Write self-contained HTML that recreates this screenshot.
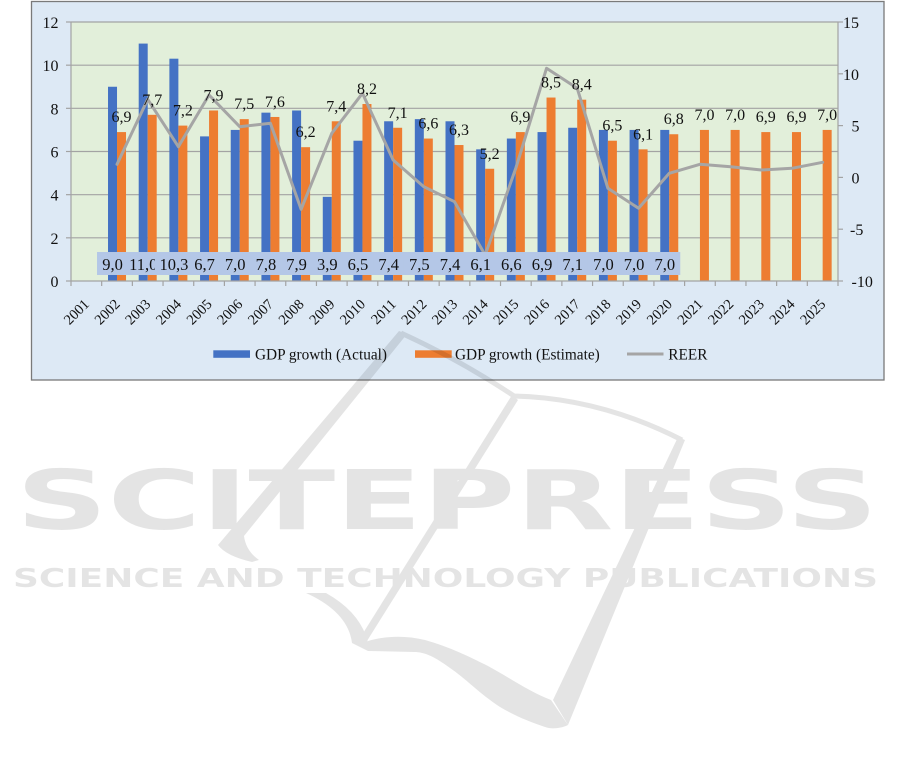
<!DOCTYPE html>
<html><head><meta charset="utf-8"><style>
html,body{margin:0;padding:0;background:#fff;}
svg{display:block;}
.t{font-family:"Liberation Serif",serif;fill:#111;}
</style></head><body>
<svg width="901" height="760" viewBox="0 0 901 760" xmlns="http://www.w3.org/2000/svg">
<rect x="0" y="0" width="901" height="760" fill="#fff"/>
<!-- chart area -->
<rect x="31.5" y="1.5" width="852.5" height="378.5" fill="#dde9f5" stroke="#7a7a7a" stroke-width="1.3"/>
<!-- plot area -->
<rect x="71" y="22" width="767" height="259" fill="#e2efda"/>
<!-- gridlines -->
<g stroke="#a3a3a3" stroke-width="1.2">
<line x1="71" y1="22" x2="838" y2="22"/>
<line x1="71" y1="65.17" x2="838" y2="65.17"/>
<line x1="71" y1="108.33" x2="838" y2="108.33"/>
<line x1="71" y1="151.5" x2="838" y2="151.5"/>
<line x1="71" y1="194.67" x2="838" y2="194.67"/>
<line x1="71" y1="237.83" x2="838" y2="237.83"/>
<!-- left axis ticks -->
<line x1="66" y1="22" x2="71" y2="22"/>
<line x1="66" y1="65.17" x2="71" y2="65.17"/>
<line x1="66" y1="108.33" x2="71" y2="108.33"/>
<line x1="66" y1="151.5" x2="71" y2="151.5"/>
<line x1="66" y1="194.67" x2="71" y2="194.67"/>
<line x1="66" y1="237.83" x2="71" y2="237.83"/>
<line x1="66" y1="281" x2="71" y2="281"/>
<line x1="71" y1="22" x2="71" y2="281"/>
<!-- right axis -->
<line x1="838" y1="22" x2="838" y2="281"/>
<line x1="838" y1="22" x2="843" y2="22"/>
<line x1="838" y1="73.8" x2="843" y2="73.8"/>
<line x1="838" y1="125.6" x2="843" y2="125.6"/>
<line x1="838" y1="177.4" x2="843" y2="177.4"/>
<line x1="838" y1="229.2" x2="843" y2="229.2"/>
<line x1="838" y1="281" x2="843" y2="281"/>
</g>
<!-- blue bars -->
<g fill="#4472c4">
<rect x="108.02" y="86.75" width="9" height="194.25"/>
<rect x="138.70" y="43.58" width="9" height="237.42"/>
<rect x="169.38" y="58.69" width="9" height="222.31"/>
<rect x="200.06" y="136.39" width="9" height="144.61"/>
<rect x="230.74" y="129.92" width="9" height="151.08"/>
<rect x="261.42" y="112.65" width="9" height="168.35"/>
<rect x="292.10" y="110.49" width="9" height="170.51"/>
<rect x="322.78" y="196.83" width="9" height="84.17"/>
<rect x="353.46" y="140.71" width="9" height="140.29"/>
<rect x="384.14" y="121.28" width="9" height="159.72"/>
<rect x="414.82" y="119.13" width="9" height="161.87"/>
<rect x="445.50" y="121.28" width="9" height="159.72"/>
<rect x="476.18" y="149.34" width="9" height="131.66"/>
<rect x="506.86" y="138.55" width="9" height="142.45"/>
<rect x="537.54" y="132.08" width="9" height="148.92"/>
<rect x="568.22" y="127.76" width="9" height="153.24"/>
<rect x="598.90" y="129.92" width="9" height="151.08"/>
<rect x="629.58" y="129.92" width="9" height="151.08"/>
<rect x="660.26" y="129.92" width="9" height="151.08"/>
</g>
<!-- orange bars -->
<g fill="#ed7d31">
<rect x="117.02" y="132.08" width="9" height="148.92"/>
<rect x="147.70" y="114.81" width="9" height="166.19"/>
<rect x="178.38" y="125.60" width="9" height="155.40"/>
<rect x="209.06" y="110.49" width="9" height="170.51"/>
<rect x="239.74" y="119.13" width="9" height="161.87"/>
<rect x="270.42" y="116.97" width="9" height="164.03"/>
<rect x="301.10" y="147.19" width="9" height="133.81"/>
<rect x="331.78" y="121.28" width="9" height="159.72"/>
<rect x="362.46" y="104.02" width="9" height="176.98"/>
<rect x="393.14" y="127.76" width="9" height="153.24"/>
<rect x="423.82" y="138.55" width="9" height="142.45"/>
<rect x="454.50" y="145.03" width="9" height="135.97"/>
<rect x="485.18" y="168.77" width="9" height="112.23"/>
<rect x="515.86" y="132.08" width="9" height="148.92"/>
<rect x="546.54" y="97.54" width="9" height="183.46"/>
<rect x="577.22" y="99.70" width="9" height="181.30"/>
<rect x="607.90" y="140.71" width="9" height="140.29"/>
<rect x="638.58" y="149.34" width="9" height="131.66"/>
<rect x="669.26" y="134.24" width="9" height="146.76"/>
<rect x="699.94" y="129.92" width="9" height="151.08"/>
<rect x="730.62" y="129.92" width="9" height="151.08"/>
<rect x="761.30" y="132.08" width="9" height="148.92"/>
<rect x="791.98" y="132.08" width="9" height="148.92"/>
<rect x="822.66" y="129.92" width="9" height="151.08"/>
</g>
<!-- x axis -->
<g stroke="#a3a3a3" stroke-width="1.2">
<line x1="71" y1="281" x2="838" y2="281"/>
<line x1="71" y1="281" x2="71" y2="286"/>
<line x1="101.68" y1="281" x2="101.68" y2="286"/>
<line x1="132.36" y1="281" x2="132.36" y2="286"/>
<line x1="163.04" y1="281" x2="163.04" y2="286"/>
<line x1="193.72" y1="281" x2="193.72" y2="286"/>
<line x1="224.40" y1="281" x2="224.40" y2="286"/>
<line x1="255.08" y1="281" x2="255.08" y2="286"/>
<line x1="285.76" y1="281" x2="285.76" y2="286"/>
<line x1="316.44" y1="281" x2="316.44" y2="286"/>
<line x1="347.12" y1="281" x2="347.12" y2="286"/>
<line x1="377.80" y1="281" x2="377.80" y2="286"/>
<line x1="408.48" y1="281" x2="408.48" y2="286"/>
<line x1="439.16" y1="281" x2="439.16" y2="286"/>
<line x1="469.84" y1="281" x2="469.84" y2="286"/>
<line x1="500.52" y1="281" x2="500.52" y2="286"/>
<line x1="531.20" y1="281" x2="531.20" y2="286"/>
<line x1="561.88" y1="281" x2="561.88" y2="286"/>
<line x1="592.56" y1="281" x2="592.56" y2="286"/>
<line x1="623.24" y1="281" x2="623.24" y2="286"/>
<line x1="653.92" y1="281" x2="653.92" y2="286"/>
<line x1="684.60" y1="281" x2="684.60" y2="286"/>
<line x1="715.28" y1="281" x2="715.28" y2="286"/>
<line x1="745.96" y1="281" x2="745.96" y2="286"/>
<line x1="776.64" y1="281" x2="776.64" y2="286"/>
<line x1="807.32" y1="281" x2="807.32" y2="286"/>
<line x1="838" y1="281" x2="838" y2="286"/>
</g>
<!-- REER line -->
<polyline fill="none" stroke="#a5a5a5" stroke-width="3" stroke-linejoin="round" stroke-linecap="round"
points="117.02,164.3 147.70,99.3 178.38,146.7 209.06,95 239.74,126.7 270.42,123.3 301.10,209.3 331.78,133.3 362.46,93.3 393.14,160 423.82,186.7 454.50,201.7 485.18,255 515.86,168 546.54,68.3 577.22,88.3 607.90,188.3 638.58,208.3 669.26,173.3 699.94,164.3 730.62,166.7 761.30,170 791.98,168.3 822.66,162.3"/>
<!-- orange data labels -->
<g class="t" font-size="16" text-anchor="middle">
<text x="121.52" y="122.08">6,9</text>
<text x="152.20" y="104.81">7,7</text>
<text x="182.88" y="115.60">7,2</text>
<text x="213.56" y="100.49">7,9</text>
<text x="244.24" y="109.13">7,5</text>
<text x="274.92" y="106.97">7,6</text>
<text x="305.60" y="137.19">6,2</text>
<text x="336.28" y="111.28">7,4</text>
<text x="366.96" y="94.02">8,2</text>
<text x="397.64" y="117.76">7,1</text>
<text x="428.32" y="128.55">6,6</text>
<text x="459.00" y="135.03">6,3</text>
<text x="489.68" y="158.77">5,2</text>
<text x="520.36" y="122.08">6,9</text>
<text x="551.04" y="87.54">8,5</text>
<text x="581.72" y="89.70">8,4</text>
<text x="612.40" y="130.71">6,5</text>
<text x="643.08" y="139.34">6,1</text>
<text x="673.76" y="124.24">6,8</text>
<text x="704.44" y="119.92">7,0</text>
<text x="735.12" y="119.92">7,0</text>
<text x="765.80" y="122.08">6,9</text>
<text x="796.48" y="122.08">6,9</text>
<text x="827.16" y="119.92">7,0</text>
</g>
<!-- blue data labels in boxes -->
<g class="t" font-size="16.5" text-anchor="middle">
<rect x="97.02" y="252" width="31" height="23" fill="#b4c7e7"/><text x="112.52" y="270">9,0</text>
<rect x="124.20" y="252" width="38" height="23" fill="#b4c7e7"/><text x="143.20" y="270">11,0</text>
<rect x="154.88" y="252" width="38" height="23" fill="#b4c7e7"/><text x="173.88" y="270">10,3</text>
<rect x="189.06" y="252" width="31" height="23" fill="#b4c7e7"/><text x="204.56" y="270">6,7</text>
<rect x="219.74" y="252" width="31" height="23" fill="#b4c7e7"/><text x="235.24" y="270">7,0</text>
<rect x="250.42" y="252" width="31" height="23" fill="#b4c7e7"/><text x="265.92" y="270">7,8</text>
<rect x="281.10" y="252" width="31" height="23" fill="#b4c7e7"/><text x="296.60" y="270">7,9</text>
<rect x="311.78" y="252" width="31" height="23" fill="#b4c7e7"/><text x="327.28" y="270">3,9</text>
<rect x="342.46" y="252" width="31" height="23" fill="#b4c7e7"/><text x="357.96" y="270">6,5</text>
<rect x="373.14" y="252" width="31" height="23" fill="#b4c7e7"/><text x="388.64" y="270">7,4</text>
<rect x="403.82" y="252" width="31" height="23" fill="#b4c7e7"/><text x="419.32" y="270">7,5</text>
<rect x="434.50" y="252" width="31" height="23" fill="#b4c7e7"/><text x="450.00" y="270">7,4</text>
<rect x="465.18" y="252" width="31" height="23" fill="#b4c7e7"/><text x="480.68" y="270">6,1</text>
<rect x="495.86" y="252" width="31" height="23" fill="#b4c7e7"/><text x="511.36" y="270">6,6</text>
<rect x="526.54" y="252" width="31" height="23" fill="#b4c7e7"/><text x="542.04" y="270">6,9</text>
<rect x="557.22" y="252" width="31" height="23" fill="#b4c7e7"/><text x="572.72" y="270">7,1</text>
<rect x="587.90" y="252" width="31" height="23" fill="#b4c7e7"/><text x="603.40" y="270">7,0</text>
<rect x="618.58" y="252" width="31" height="23" fill="#b4c7e7"/><text x="634.08" y="270">7,0</text>
<rect x="649.26" y="252" width="31" height="23" fill="#b4c7e7"/><text x="664.76" y="270">7,0</text>
</g>
<!-- left axis labels -->
<g class="t" font-size="16" text-anchor="end">
<text x="58.5" y="28">12</text>
<text x="58.5" y="71.2">10</text>
<text x="58.5" y="114.3">8</text>
<text x="58.5" y="157.5">6</text>
<text x="58.5" y="200.7">4</text>
<text x="58.5" y="243.8">2</text>
<text x="58.5" y="287">0</text>
</g>
<!-- right axis labels -->
<g class="t" font-size="16">
<text x="843" y="28">15</text>
<text x="843" y="79.8">10</text>
<text x="851.5" y="131.6">5</text>
<text x="851.5" y="183.4">0</text>
<text x="850" y="235.2">-5</text>
<text x="851.5" y="287">-10</text>
</g>
<!-- x axis labels -->
<g class="t" font-size="14.5" text-anchor="end">
<text x="90.04" y="305" transform="rotate(-45 90.04 305)">2001</text>
<text x="120.72" y="305" transform="rotate(-45 120.72 305)">2002</text>
<text x="151.40" y="305" transform="rotate(-45 151.40 305)">2003</text>
<text x="182.08" y="305" transform="rotate(-45 182.08 305)">2004</text>
<text x="212.76" y="305" transform="rotate(-45 212.76 305)">2005</text>
<text x="243.44" y="305" transform="rotate(-45 243.44 305)">2006</text>
<text x="274.12" y="305" transform="rotate(-45 274.12 305)">2007</text>
<text x="304.80" y="305" transform="rotate(-45 304.80 305)">2008</text>
<text x="335.48" y="305" transform="rotate(-45 335.48 305)">2009</text>
<text x="366.16" y="305" transform="rotate(-45 366.16 305)">2010</text>
<text x="396.84" y="305" transform="rotate(-45 396.84 305)">2011</text>
<text x="427.52" y="305" transform="rotate(-45 427.52 305)">2012</text>
<text x="458.20" y="305" transform="rotate(-45 458.20 305)">2013</text>
<text x="488.88" y="305" transform="rotate(-45 488.88 305)">2014</text>
<text x="519.56" y="305" transform="rotate(-45 519.56 305)">2015</text>
<text x="550.24" y="305" transform="rotate(-45 550.24 305)">2016</text>
<text x="580.92" y="305" transform="rotate(-45 580.92 305)">2017</text>
<text x="611.60" y="305" transform="rotate(-45 611.60 305)">2018</text>
<text x="642.28" y="305" transform="rotate(-45 642.28 305)">2019</text>
<text x="672.96" y="305" transform="rotate(-45 672.96 305)">2020</text>
<text x="703.64" y="305" transform="rotate(-45 703.64 305)">2021</text>
<text x="734.32" y="305" transform="rotate(-45 734.32 305)">2022</text>
<text x="765.00" y="305" transform="rotate(-45 765.00 305)">2023</text>
<text x="795.68" y="305" transform="rotate(-45 795.68 305)">2024</text>
<text x="826.36" y="305" transform="rotate(-45 826.36 305)">2025</text>
</g>
<!-- legend -->
<rect x="213.3" y="350.3" width="36.7" height="7.5" fill="#4472c4"/>
<rect x="415" y="350.3" width="36.7" height="7.5" fill="#ed7d31"/>
<line x1="627" y1="354" x2="663.5" y2="354" stroke="#a5a5a5" stroke-width="3"/>
<g class="t" font-size="15.3">
<text x="255" y="359.5">GDP growth (Actual)</text>
<text x="455" y="359.5">GDP growth (Estimate)</text>
<text x="668.3" y="359.5">REER</text>
</g>
<!-- watermark -->
<g opacity="0.1" fill="#000">
<path d="M399,331 L407,334 L244,536 Q246,551 259,560 L252,562 Q226,556 218,545 Z"/>
<path d="M306,593 L326,593 Q360,612 368,642 L368,651 L352,643 Q348,612 306,593 Z"/>
<path d="M368,641 C385,636 405,635 425,640 C450,647 470,657 488,666 C510,678 530,692 551,700 L568,725 C560,729 550,729 545,727 C530,722 515,716 500,707 C480,694 465,678 450,668 C435,657 425,652 414,652 L368,651 Z"/>
<path d="M678,437 L685,440 L568,725 L553,700 Z"/>
<path d="M512,395 L518,400 L367,641 L360,638 Z"/>
<path d="M401,333 Q460,360 514,396 Q600,398 682,440" fill="none" stroke="#000" stroke-width="5"/>
<text x="16" y="529" font-family="DejaVu Sans, sans-serif" font-weight="bold" font-size="82" textLength="862" lengthAdjust="spacingAndGlyphs">SCITEPRESS</text>
<text x="13" y="587" font-family="DejaVu Sans, sans-serif" font-weight="bold" font-size="25.6" textLength="865" lengthAdjust="spacingAndGlyphs">SCIENCE AND TECHNOLOGY PUBLICATIONS</text>
</g>
</svg>
</body></html>
